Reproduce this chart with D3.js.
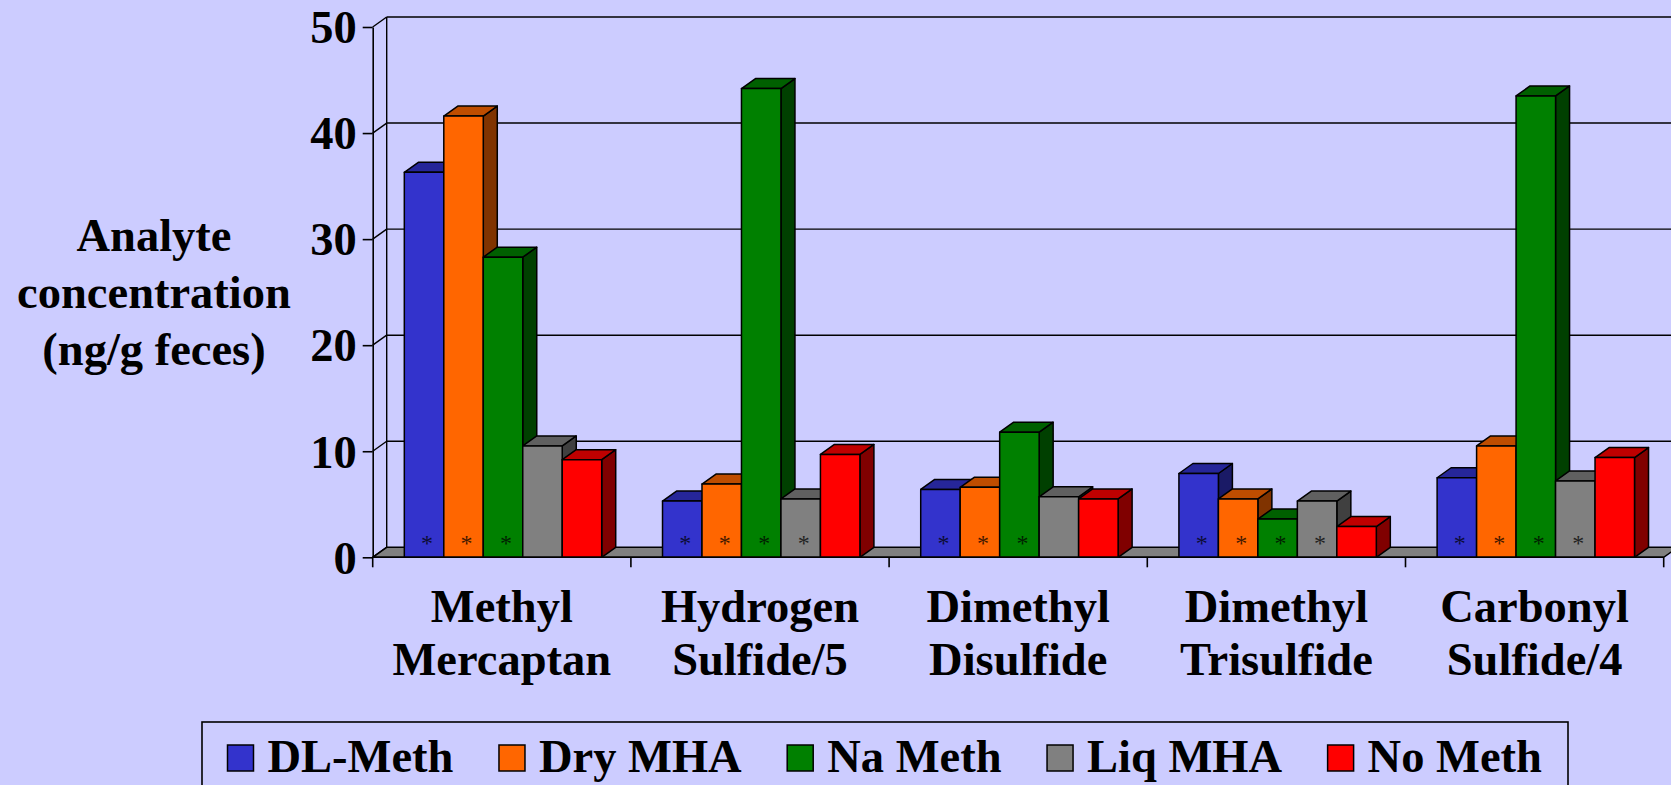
<!DOCTYPE html>
<html>
<head>
<meta charset="utf-8">
<script src="https://cdn.jsdelivr.net/npm/d3@7/dist/d3.min.js"></script>
<style>
  html, body { margin: 0; padding: 0; background: #CCCCFF; }
  svg { display: block; }
  text { font-family: "Liberation Serif", "Times New Roman", serif; font-weight: bold; fill: #000; }
</style>
</head>
<body>
<svg id="chart" width="1671" height="785"></svg>
<script>
// Sulfur analytes measured in feces for each methionine source
const categories = ["Methyl Mercaptan", "Hydrogen Sulfide/5", "Dimethyl Disulfide", "Dimethyl Trisulfide", "Carbonyl Sulfide/4"];
const seriesNames = ["DL-Meth", "Dry MHA", "Na Meth", "Liq MHA", "No Meth"];
const seriesColors = ["#3333CC", "#FF6600", "#008000", "#808080", "#FF0000"];

// Concentration (ng/g feces), one array per treatment, in category order
const dlMeth = [36.3, 5.3, 6.4, 7.9, 7.5];
const dryMHA = [41.6, 6.9, 6.6, 5.5, 10.5];
const naMeth = [28.3, 44.2, 11.8, 3.6, 43.5];
const liqMHA = [10.5, 5.5, 5.7, 5.3, 7.2];
const noMeth = [9.2, 9.7, 5.5, 2.9, 9.4];

// Asterisk flags (1 = marked as significantly different)
const starDlMeth = [1, 1, 1, 1, 1];
const starDryMHA = [1, 1, 1, 1, 1];
const starNaMeth = [1, 1, 1, 1, 1];
const starLiqMHA = [0, 1, 0, 1, 1];
const starNoMeth = [0, 0, 0, 0, 0];

const yTicks = [0, 10, 20, 30, 40, 50];
const yTitle = ["Analyte", "concentration", "(ng/g feces)"];

const seriesValues = [dlMeth, dryMHA, naMeth, liqMHA, noMeth];
const seriesStars = [starDlMeth, starDryMHA, starNaMeth, starLiqMHA, starNoMeth];

const W = 1671, H = 785;
const FONT = 46.5;
const DX = 14, DY = 10;          // oblique depth of the 3-D floor and bars
const X0 = 372.7, X1 = 1663.7;   // front edge of the floor
const svg = d3.select("#chart");

const y = d3.scaleLinear().domain([0, 50]).range([557.3, 27]);
const x0 = d3.scaleBand().domain(categories).range([X0, X1]).padding(0);
const x1 = d3.scaleBand().domain(seriesNames).range([0, x0.bandwidth()])
  .paddingInner(0).paddingOuter(0.77).align(0.52);

const shade = (c, k) => { const r = d3.rgb(c); return d3.rgb(r.r * k, r.g * k, r.b * k).formatHex(); };

svg.append("rect").attr("width", W).attr("height", H).attr("fill", "#CCCCFF");

// Back wall gridlines and the matching diagonals on the side wall
const grid = svg.append("g").attr("stroke", "#000").attr("stroke-width", 1.4).attr("fill", "none");
yTicks.filter(t => t > 0).forEach(t => {
  grid.append("line").attr("x1", X0 + DX).attr("x2", W + 20)
    .attr("y1", y(t) - DY).attr("y2", y(t) - DY);
});
yTicks.forEach(t => {
  grid.append("line").attr("x1", X0).attr("y1", y(t)).attr("x2", X0 + DX).attr("y2", y(t) - DY);
});
grid.append("line").attr("x1", X0 + DX).attr("x2", X0 + DX)
  .attr("y1", y(50) - DY).attr("y2", y(0) - DY);

// Floor
svg.append("path")
  .attr("d", `M${X0},${y(0)}L${X1},${y(0)}L${X1 + DX},${y(0) - DY}L${X0 + DX},${y(0) - DY}Z`)
  .attr("fill", "#808080").attr("stroke", "#000").attr("stroke-width", 1.5);

// Bars, drawn left to right so each front face covers the previous side face
const bars = [];
categories.forEach((c, ci) => {
  seriesNames.forEach((s, si) => {
    bars.push({ cat: c, series: s, si, value: seriesValues[si][ci], star: seriesStars[si][ci] });
  });
});

const barG = svg.append("g").attr("stroke", "#000").attr("stroke-width", 1.5).attr("stroke-linejoin", "round");
bars.forEach(d => {
  const xl = x0(d.cat) + x1(d.series);
  const xr = xl + x1.bandwidth();
  const yt = y(d.value), yb = y(0);
  const col = seriesColors[d.si];
  const g = barG.append("g");
  g.append("path") // side
    .attr("d", `M${xr},${yb}L${xr + DX},${yb - DY}L${xr + DX},${yt - DY}L${xr},${yt}Z`)
    .attr("fill", shade(col, 0.5));
  g.append("path") // top
    .attr("d", `M${xl},${yt}L${xl + DX},${yt - DY}L${xr + DX},${yt - DY}L${xr},${yt}Z`)
    .attr("fill", shade(col, 0.75));
  g.append("rect") // front
    .attr("x", xl).attr("y", yt).attr("width", xr - xl).attr("height", yb - yt)
    .attr("fill", col);
  if (d.star) {
    g.append("text")
      .attr("x", (xl + xr) / 2 + 3).attr("y", yb - 6)
      .attr("text-anchor", "middle")
      .attr("font-size", 24)
      .attr("stroke", "none")
      .style("font-weight", "normal")
      .style("fill", "#000").style("opacity", 0.75)
      .text("*");
  }
});

// Value axis on the front-left edge
const yAxis = svg.append("g").attr("transform", `translate(${X0},0)`)
  .call(d3.axisLeft(y).tickValues(yTicks).tickFormat(d3.format("d")).tickSize(10).tickSizeOuter(0).tickPadding(6));
yAxis.select(".domain").attr("stroke", "#000").attr("stroke-width", 1.6);
yAxis.selectAll(".tick line").attr("stroke", "#000").attr("stroke-width", 1.6);
yAxis.selectAll(".tick text").attr("font-size", FONT).attr("font-family", null).attr("dy", "0.34em");

// Category axis: boundary ticks along the front edge of the floor
const xAxis = svg.append("g");
xAxis.append("line").attr("x1", X0).attr("x2", X1).attr("y1", y(0)).attr("y2", y(0))
  .attr("stroke", "#000").attr("stroke-width", 1.6);
categories.map(c => x0(c)).concat([X1]).forEach(xv => {
  xAxis.append("line").attr("x1", xv).attr("x2", xv).attr("y1", y(0)).attr("y2", y(0) + 10)
    .attr("stroke", "#000").attr("stroke-width", 1.6);
});
categories.forEach(c => {
  const parts = c.split(" ");
  const t = xAxis.append("text").attr("text-anchor", "middle").attr("font-size", FONT);
  parts.forEach((p, i) => {
    t.append("tspan").attr("x", x0(c) + x0.bandwidth() / 2).attr("y", 621.7 + i * 53.3).text(p);
  });
});

// Value axis title
const yt = svg.append("text").attr("text-anchor", "middle").attr("font-size", FONT);
yTitle.forEach((line, i) => {
  yt.append("tspan").attr("x", 154).attr("y", 250.7 + i * 57.3).text(line);
});

// Legend
const leg = svg.append("g");
leg.append("rect").attr("x", 202).attr("y", 722).attr("width", 1366).attr("height", 120)
  .attr("fill", "none").attr("stroke", "#000").attr("stroke-width", 1.6);
let lx = 227.5;
seriesNames.forEach((s, i) => {
  leg.append("rect").attr("x", lx).attr("y", 745).attr("width", 26).attr("height", 26)
    .attr("fill", seriesColors[i]).attr("stroke", "#000").attr("stroke-width", 1.5);
  const t = leg.append("text").attr("x", lx + 40).attr("y", 771.5).attr("font-size", FONT).text(s);
  lx += 40 + t.node().getComputedTextLength() + 45.5;
});
</script>
</body>
</html>
